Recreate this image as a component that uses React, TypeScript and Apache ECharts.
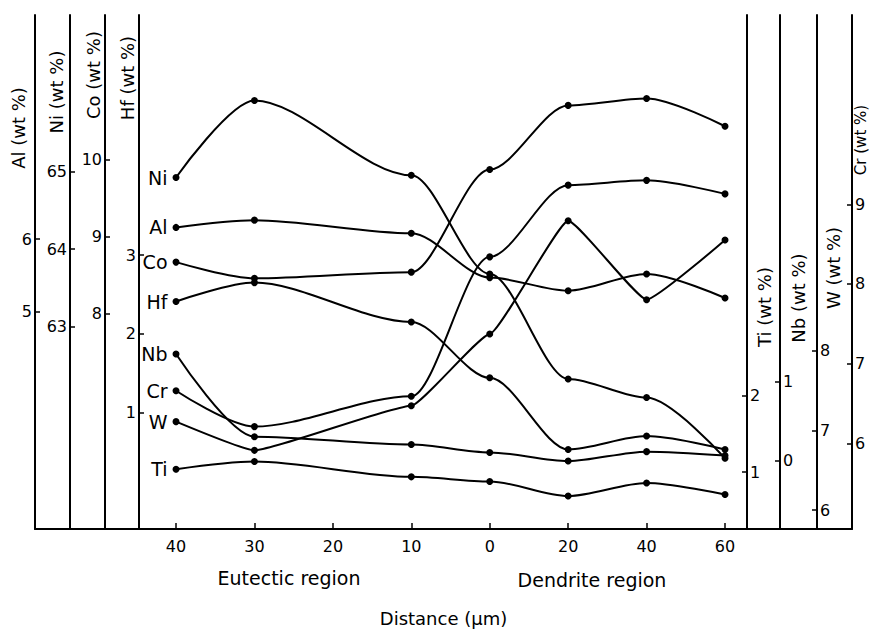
import React, { useEffect, useRef } from "react";
import * as echarts from "echarts";

// ---- data ----
const xTickLabels = ["40", "30", "20", "10", "0", "20", "40", "60"];
const xTickIndex = [0, 1, 2, 3, 4, 5, 6, 7];
const xIndex = [0, 1, 3, 4, 5, 6, 7];
const seriesNames = ["Ni", "Al", "Co", "Hf", "Nb", "Cr", "W", "Ti"];
const niValues = [64.92, 65.91, 64.95, 63.68, 62.33, 62.09, 61.31];
const alValues = [6.16, 6.26, 6.08, 5.47, 5.29, 5.52, 5.19];
const coValues = [8.67, 8.46, 8.54, 9.87, 10.7, 10.79, 10.43];
const hfValues = [2.41, 2.65, 2.15, 1.44, 0.53, 0.7, 0.53];
const nbValues = [1.35, 0.3, 0.2, 0.1, -0.01, 0.11, 0.06];
const crValues = [6.66, 6.21, 6.59, 8.34, 9.24, 9.3, 9.13];
const wValues = [7.11, 6.75, 7.31, 8.21, 9.63, 8.64, 9.39];
const tiValues = [1.04, 1.14, 0.94, 0.88, 0.69, 0.86, 0.71];

const alTicks = [5, 6];
const niTicks = [63, 64, 65];
const coTicks = [8, 9, 10];
const hfTicks = [1, 2, 3];
const tiTicks = [1, 2];
const nbTicks = [0, 1];
const wTicks = [6, 7, 8];
const crTicks = [6, 7, 8, 9];

const FONT = "DejaVu Sans";

function yAx(position: string, offset: number, min: number, max: number, ticks: number[]) {
  return {
    type: "value",
    position,
    offset,
    min,
    max,
    splitLine: { show: false },
    axisLine: { show: true, onZero: false, lineStyle: { color: "#000", width: 2 } },
    axisTick: { show: true, inside: true, length: 5, customValues: ticks, lineStyle: { color: "#000", width: 1.5 } },
    axisLabel: { show: true, customValues: ticks, margin: 3, color: "#000", fontSize: 16, fontFamily: FONT },
  };
}

function vText(text: string, x: number, y: number, size = 18) {
  return {
    type: "text",
    x,
    y,
    rotation: Math.PI / 2,
    style: { text, fill: "#000", fontSize: size, fontFamily: FONT, textAlign: "center", textVerticalAlign: "middle" },
  };
}

export default function App() {
  const ref = useRef<HTMLDivElement>(null);
  useEffect(() => {
    if (!ref.current) return;
    const chart = echarts.init(ref.current, undefined, { renderer: "svg" });
    const valueSets = [niValues, alValues, coValues, hfValues, nbValues, crValues, wValues, tiValues];
    const axisIdx = [1, 0, 2, 3, 5, 7, 6, 4];
    const smooths = [0.3, 0.3, 0.3, 0.3, 0.3, 0.3, 0.12, 0.3];
    const series = seriesNames.map((name, i) => ({
      type: "line",
      name,
      yAxisIndex: axisIdx[i],
      smooth: smooths[i],
      smoothMonotone: "x",
      symbol: "circle",
      symbolSize: 7,
      lineStyle: { color: "#000", width: 2 },
      itemStyle: { color: "#000" },
      data: xIndex.map((x, j) => ({
        value: [x, valueSets[i][j]],
        label:
          j === 0
            ? { show: true, position: "left", distance: 5, formatter: name, color: "#000", fontSize: 19, fontFamily: FONT }
            : { show: false },
      })),
    }));
    chart.setOption({
      animation: false,
      backgroundColor: "#fff",
      grid: { left: 35, right: 19, top: 15, bottom: 101, containLabel: false },
      xAxis: {
        type: "value",
        min: -1.798,
        max: 8.619,
        position: "bottom",
        splitLine: { show: false },
        axisLine: { onZero: false, lineStyle: { color: "#000", width: 2 } },
        axisTick: { inside: true, length: 6, customValues: xTickIndex, lineStyle: { color: "#000", width: 1.5 } },
        axisLabel: {
          customValues: xTickIndex,
          formatter: (v: number) => xTickLabels[Math.round(v)],
          margin: 9,
          color: "#000",
          fontSize: 16,
          fontFamily: FONT,
        },
        name: "Distance (μm)",
        nameLocation: "middle",
        nameGap: 80,
        nameTextStyle: { color: "#000", fontSize: 18, fontFamily: FONT },
      },
      yAxis: [
        yAx("left", 0, 2.014, 9.08, alTicks),
        yAx("left", -35, 60.4, 67.01, niTicks),
        yAx("left", -70, 5.213, 11.871, coTicks),
        yAx("left", -104, -0.481, 6.051, hfTicks),
        yAx("right", -105, 0.26, 6.961, tiTicks),
        yAx("right", -72, -0.873, 5.658, nbTicks),
        yAx("right", -35, 5.763, 12.2125, wTicks),
        yAx("right", 0, 4.925, 11.375, crTicks),
      ],
      graphic: [
        vText("Al (wt %)", 18, 128),
        vText("Ni (wt %)", 56, 92),
        vText("Co (wt %)", 93, 75),
        vText("Hf (wt %)", 127, 78),
        vText("Ti (wt %)", 764, 307),
        vText("Nb (wt %)", 798, 298),
        vText("W (wt %)", 833, 268),
        vText("Cr (wt %)", 861, 140, 15),
        {
          type: "text",
          x: 289,
          y: 578,
          style: { text: "Eutectic region", fill: "#000", fontSize: 19, fontFamily: FONT, textAlign: "center", textVerticalAlign: "middle" },
        },
        {
          type: "text",
          x: 592,
          y: 580,
          style: { text: "Dendrite region", fill: "#000", fontSize: 19, fontFamily: FONT, textAlign: "center", textVerticalAlign: "middle" },
        },
      ],
      series,
    });
    return () => chart.dispose();
  }, []);
  return <div ref={ref} style={{ position: "absolute", left: 0, top: 0, width: 871, height: 632 }} />;
}
